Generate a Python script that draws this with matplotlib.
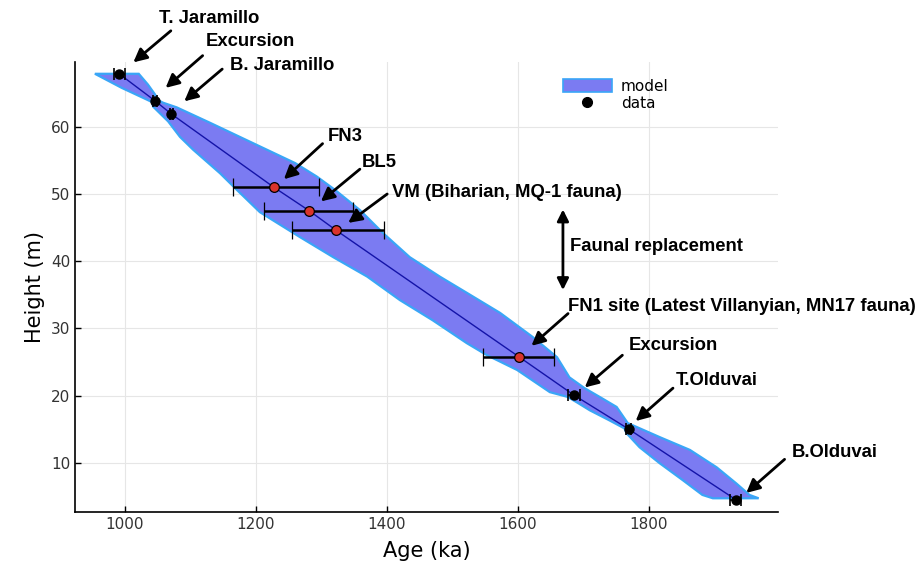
import numpy as np
import matplotlib
matplotlib.use("Agg")
import matplotlib.pyplot as plt
from matplotlib.patches import Patch
from matplotlib.lines import Line2D

# model envelope (age ka, height m), left = younger edge, right = older edge
left_age = [954, 995, 1028, 1041, 1043, 1066, 1084, 1104, 1145, 1171, 1206, 1267,
            1318, 1370, 1420, 1470, 1522, 1553, 1599, 1649, 1676, 1690, 1710, 1740,
            1763, 1766, 1786, 1817, 1852, 1882, 1898]
left_h = [67.9, 65.8, 64.3, 63.7, 63.0, 60.8, 58.5, 56.6, 53.1, 50.6, 47.3, 43.6,
          40.6, 37.7, 34.2, 31.2, 27.8, 26.0, 23.8, 20.5, 19.8, 19.0, 17.8, 16.3,
          15.1, 14.4, 12.3, 9.9, 7.4, 5.2, 4.7]
right_age = [1021, 1035, 1046, 1050, 1058, 1079, 1130, 1195, 1260, 1293, 1321, 1359,
             1394, 1435, 1481, 1522, 1573, 1623, 1660, 1679, 1702, 1725, 1751, 1768,
             1782, 1817, 1863, 1904, 1934, 1954, 1968]
right_h = [67.9, 66.3, 64.8, 64.0, 63.6, 62.9, 60.6, 57.6, 54.6, 52.6, 50.6, 47.6,
           44.2, 40.6, 37.7, 35.3, 32.3, 28.7, 25.7, 22.7, 21.1, 19.8, 18.3, 15.9,
           15.3, 13.8, 11.9, 9.3, 6.9, 5.2, 4.7]

# dated horizons (black) and fossil sites (red)
dat_age = [991, 1045.5, 1071, 1686, 1769.5, 1933]
dat_h = [67.9, 63.9, 61.9, 20.05, 15.0, 4.5]
dat_err = [8.5, 3, 3, 9, 4, 8.5]

site_age = [1227.5, 1281.5, 1322.5, 1602]
site_h = [51.0, 47.5, 44.6, 25.75]
site_lo = [62.5, 69, 68, 55]
site_hi = [68.5, 67, 73, 53]

fig = plt.figure(figsize=(9.19, 5.66), dpi=100)
ax = fig.add_axes([0.0819, 0.0959, 0.7650, 0.7951])

band_c = '#7b7bf2'
edge_c = '#3aa6f7'
ax.fill(np.r_[left_age, right_age[::-1]], np.r_[left_h, right_h[::-1]],
        facecolor=band_c, edgecolor=edge_c, lw=1.6, zorder=2)

# median line through all horizons
all_age = np.r_[dat_age, site_age]
all_h = np.r_[dat_h, site_h]
order = np.argsort(all_h)[::-1]
ax.plot(all_age[order], all_h[order], color='#1414a8', lw=1.0, zorder=3)

ax.errorbar(dat_age, dat_h, xerr=dat_err, fmt='o', color='k', ms=6.5,
            ecolor='k', elinewidth=1.2, capsize=4.5, capthick=1.2, zorder=5)
ax.errorbar(site_age, site_h, xerr=[site_lo, site_hi], fmt='o', mfc='#d9342b',
            mec='k', mew=0.9, ms=7, ecolor='k', elinewidth=1.8, capsize=6.5,
            capthick=1.8, zorder=5)

ax.set_xlim(924, 1998)
ax.set_ylim(2.7, 69.7)
ax.set_xticks([1000, 1200, 1400, 1600, 1800])
ax.set_yticks([10, 20, 30, 40, 50, 60])
ax.grid(True, color='#e6e6e6', lw=0.8, zorder=0)
ax.set_axisbelow(True)
for s in ['top', 'right']:
    ax.spines[s].set_visible(False)
for s in ['left', 'bottom']:
    ax.spines[s].set_linewidth(1.2)
ax.tick_params(direction='in', length=4, width=1, labelsize=11, labelcolor='#333333')
ax.set_xlabel('Age (ka)', fontsize=15, labelpad=7)
ax.set_ylabel('Height (m)', fontsize=15, labelpad=4)

# annotations: (label, text x, text y, arrow tail, arrow tip)
notes = [
    ('T. Jaramillo', 1052, 76.2, (1070, 74.3), (1012.7, 69.6)),
    ('Excursion', 1123, 72.7, (1118.6, 70.6), (1062, 65.8)),
    ('B. Jaramillo', 1160, 69.1, (1148.5, 68.6), (1090.5, 63.8)),
    ('FN3', 1309.5, 58.5, (1301.8, 57.5), (1242.7, 52.2)),
    ('BL5', 1362, 54.7, (1358.8, 53.7), (1299.2, 48.9)),
    ('VM (Biharian, MQ-1 fauna)', 1408, 50.2, (1400.5, 50.0), (1340.9, 45.7)),
    ('FN1 site (Latest Villanyian, MN17 fauna)', 1676, 33.3, (1676.8, 32.2), (1620.9, 27.4)),
    ('Excursion', 1769.5, 27.4, (1759.8, 26.0), (1702.3, 21.2)),
    ('T.Olduvai', 1840.7, 22.3, (1837.1, 21.1), (1780.1, 16.2)),
    ('B.Olduvai', 2018.7, 11.5, (2007.6, 10.5), (1949.1, 5.5)),
]
afont = dict(family=['Liberation Sans', 'DejaVu Sans'], weight='bold', size=13.3)
for lab, tx, ty, tail, tip in notes:
    ax.text(tx, ty, lab, ha='left', va='center', clip_on=False, zorder=6, **afont)
    ax.annotate('', xy=tip, xytext=tail, annotation_clip=False, zorder=6,
                arrowprops=dict(arrowstyle='-|>', color='k', lw=2,
                                mutation_scale=20, shrinkA=0, shrinkB=0))

# faunal replacement double arrow
ax.annotate('', xy=(1669, 47.7), xytext=(1669, 35.7), zorder=6,
            arrowprops=dict(arrowstyle='<|-|>', color='k', lw=2,
                            mutation_scale=17, shrinkA=0, shrinkB=0))
ax.text(1679.3, 42.2, 'Faunal replacement', ha='left', va='center', zorder=6, **afont)

handles = [Patch(facecolor=band_c, edgecolor=edge_c, lw=1.2),
           Line2D([], [], marker='o', color='k', ls='', ms=7)]
ax.legend(handles, ['model', 'data'], loc='upper left', bbox_to_anchor=(0.685, 0.975),
          frameon=False, fontsize=11, handlelength=3.2, handleheight=0.9,
          labelspacing=0.1, borderaxespad=0, handletextpad=0.6)

fig.savefig('out.png', dpi=100)
